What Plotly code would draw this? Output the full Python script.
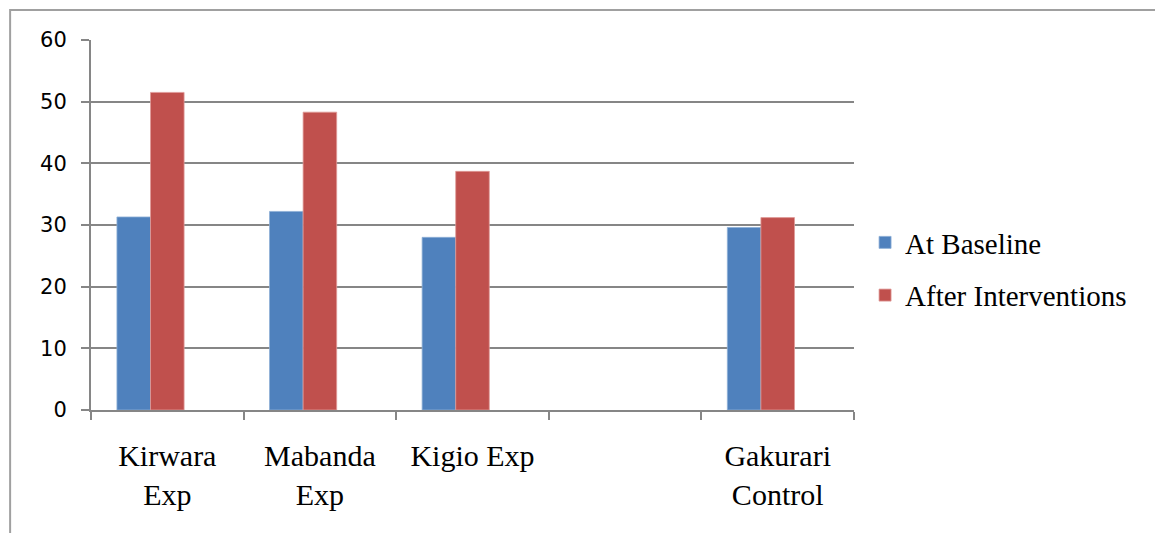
import plotly.graph_objects as go

# Site groups (the blank slot is an empty category on the axis)
categories = ["Kirwara<br>Exp", "Mabanda<br>Exp", "Kigio Exp", " ", "Gakurari<br>Control"]
baseline = [31.3, 32.2, 28.0, None, 29.6]
after_interventions = [51.5, 48.3, 38.7, None, 31.2]
unused_series = [None, None, None, None, None]
y_ticks = [0, 10, 20, 30, 40, 50, 60]

BLUE = "#4F81BD"
RED = "#C0504D"
GRID = "#868686"

fig = go.Figure()
fig.add_trace(go.Bar(
    x=categories, y=baseline, name="At Baseline", legendgroup="a",
    marker=dict(color=BLUE, line=dict(color="#8DAED6", width=0.8)),
))
fig.add_trace(go.Bar(
    x=categories, y=after_interventions, name="After Interventions", legendgroup="b",
    marker=dict(color=RED, line=dict(color="#E09A98", width=0.8)),
))
# Third, empty series slot keeps the two bars left of each category centre
fig.add_trace(go.Bar(
    x=categories, y=unused_series, name="", showlegend=False,
    marker=dict(color="#9BBB59"),
))

# Outer chart frame
fig.add_shape(
    type="rect", xref="paper", yref="paper",
    x0=-0.106, x1=1.5, y0=-0.5, y1=1.081,
    line=dict(color="#A0A0A0", width=2), fillcolor="rgba(0,0,0,0)", layer="below",
)

fig.update_layout(
    width=1155, height=533,
    margin=dict(l=91, r=301, t=40, b=123),
    paper_bgcolor="white", plot_bgcolor="white",
    barmode="group", bargap=0.34, bargroupgap=0,
    showlegend=True,
    legend=dict(
        x=1.0145, y=0.381, xanchor="left", yanchor="middle",
        font=dict(family="Liberation Serif", size=29, color="black"),
        tracegroupgap=12, itemwidth=30,
    ),
    xaxis=dict(
        type="category", tickson="boundaries",
        ticks="outside", ticklen=8, tickcolor=GRID, tickwidth=2,
        showline=True, linecolor=GRID, linewidth=2,
        showgrid=False,
        tickfont=dict(family="Liberation Serif", size=30, color="black"),
        ticklabelstandoff=18,
    ),
    yaxis=dict(
        range=[0, 60], tickvals=y_ticks,
        ticks="outside", ticklen=8, tickcolor=GRID, tickwidth=2,
        showline=True, linecolor=GRID, linewidth=2,
        showgrid=True, gridcolor=GRID, gridwidth=1.5,
        zeroline=False,
        tickfont=dict(family="DejaVu Sans", size=21, color="black"),
        ticklabelstandoff=10,
    ),
)

fig.write_html("out.html")
